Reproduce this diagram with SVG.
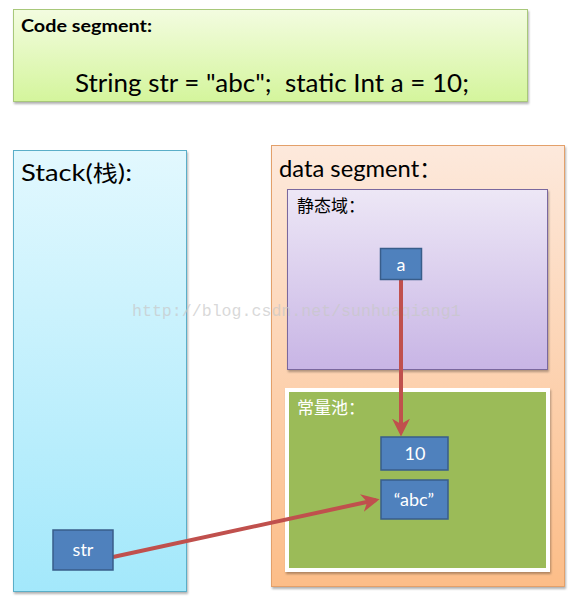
<svg xmlns="http://www.w3.org/2000/svg" width="575" height="599" viewBox="0 0 575 599">
<defs>
<linearGradient id="gCode" x1="0" y1="0" x2="0" y2="1"><stop offset="0" stop-color="#f3fce0"/><stop offset="1" stop-color="#d4f59c"/></linearGradient>
<linearGradient id="gStack" x1="0" y1="0" x2="0" y2="1"><stop offset="0" stop-color="#e2f8fe"/><stop offset="1" stop-color="#a3e8fb"/></linearGradient>
<linearGradient id="gData" x1="0" y1="0" x2="0" y2="1"><stop offset="0" stop-color="#fde9dc"/><stop offset="1" stop-color="#fcbd88"/></linearGradient>
<linearGradient id="gStatic" x1="0" y1="0" x2="0" y2="1"><stop offset="0" stop-color="#ede7f6"/><stop offset="1" stop-color="#c8b5e5"/></linearGradient>
<filter id="sh" x="-5%" y="-5%" width="110%" height="110%"><feDropShadow dx="1" dy="2" stdDeviation="1.2" flood-color="#000" flood-opacity="0.3"/></filter>
<marker id="ah" viewBox="0 0 10 10" refX="8" refY="5" markerWidth="4.5" markerHeight="4.5" orient="auto" markerUnits="strokeWidth"><path d="M0,0 L10,5 L0,10 L3,5 Z" fill="#c0504d"/></marker>
</defs>
<style>
.t{font-family:Lato,"Open Sans","Noto Sans CJK SC",sans-serif;fill:#000;white-space:pre}
.cjk{font-family:"Noto Sans CJK SC",sans-serif}
.box{fill:#4f81bd;stroke:#385d8a;stroke-width:1.5}
.bt{font-family:Lato,"Open Sans",sans-serif;fill:#fff;font-size:18px;text-anchor:middle}
.conn{stroke:#c0504d;stroke-width:4;fill:none}
</style>
<g id="code">
<rect x="13.5" y="9.5" width="514" height="92" fill="url(#gCode)" stroke="#a8c87a" filter="url(#sh)"/>
<text class="t" x="21" y="32" font-size="16.5" font-weight="bold" textLength="131" lengthAdjust="spacingAndGlyphs">Code segment:</text>
<text class="t" x="75" y="92" font-size="25" textLength="394" lengthAdjust="spacingAndGlyphs" xml:space="preserve">String str = "abc";  static Int a = 10;</text>
</g>
<g id="stack">
<rect x="13.5" y="150.5" width="173" height="441" fill="url(#gStack)" stroke="#5aaec8" filter="url(#sh)"/>
<text class="t" x="21" y="181" font-size="24" textLength="111" lengthAdjust="spacingAndGlyphs">Stack(<tspan class="cjk" font-size="22">栈</tspan>):</text>
</g>
<g id="data">
<rect x="271.5" y="145.5" width="293" height="441" fill="url(#gData)" stroke="#e3a06a" filter="url(#sh)"/>
<text class="t" x="279" y="177" font-size="24" textLength="162" lengthAdjust="spacingAndGlyphs">data segment<tspan class="cjk" font-size="22">：</tspan></text>
</g>
<g id="static">
<rect x="287.5" y="189.5" width="260" height="180" fill="url(#gStatic)" stroke="#7a679e" filter="url(#sh)"/>
<text class="cjk" x="297" y="212" font-size="17" fill="#000">静态域：</text>
</g>
<g id="pool">
<rect x="287" y="390" width="261" height="180" fill="#9bbb59" stroke="#fff" stroke-width="4" filter="url(#sh)"/>
<text class="cjk" x="297" y="414" font-size="17" fill="#fff">常量池：</text>
</g>
<text x="132" y="316" font-family="Liberation Mono,monospace" font-size="16.6" fill="#c8c8c8" fill-opacity="0.7">http://blog.csdn.net/sunhuaqiang1</text>
<g id="connectors">
<line class="conn" x1="401" y1="279" x2="401" y2="433" marker-end="url(#ah)"/>
<line class="conn" x1="113" y1="557" x2="376" y2="500" marker-end="url(#ah)"/>
</g>
<g id="node-a">
<rect class="box" x="380.5" y="248.5" width="41" height="31"/>
<text class="bt" x="401" y="271">a</text>
</g>
<g id="node-10">
<rect class="box" x="381" y="437" width="67" height="33"/>
<text class="bt" x="415" y="460">10</text>
</g>
<g id="node-abc">
<rect class="box" x="381" y="480" width="67" height="39"/>
<text class="bt" x="414" y="506">“abc”</text>
</g>
<g id="node-str">
<rect class="box" x="53" y="530" width="60" height="40"/>
<text class="bt" x="83" y="556">str</text>
</g>
</svg>
